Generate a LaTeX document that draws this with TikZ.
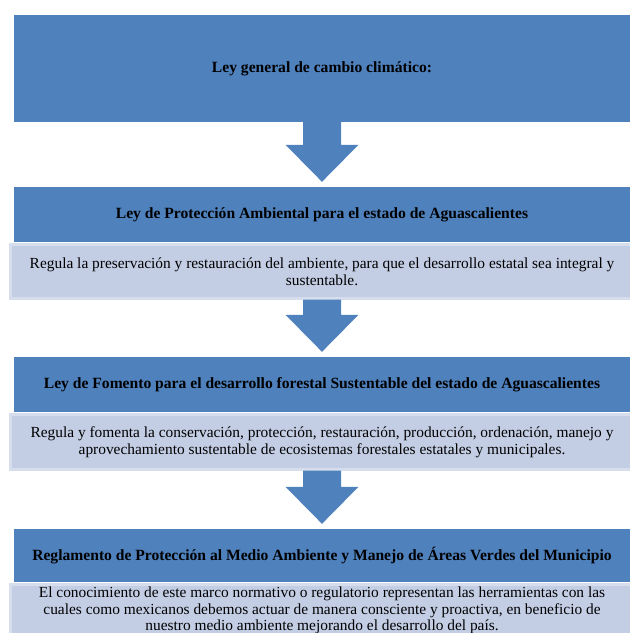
\documentclass[tikz,border=0pt]{standalone}
\usepackage{fontspec}
\setmainfont{Liberation Serif}
\usepackage{tikz}
\usetikzlibrary{calc, positioning}

\definecolor{headblue}{HTML}{4F81BD}
\definecolor{lightfill}{HTML}{C3CEE5}
\definecolor{lightedge}{HTML}{D6DDEC}

\hyphenpenalty=10000
\exhyphenpenalty=10000

\tikzset{
    header/.style={rectangle, fill=headblue, minimum width=616pt, inner sep=0pt,
        font=\fontsize{15.6}{16.7}\selectfont\bfseries, align=center},
    detail/.style={rectangle, fill=lightfill, draw=lightedge, line width=2.5pt,
        minimum width=623pt, inner sep=0pt, text width=598pt,
        font=\fontsize{15.4}{16.7}\selectfont, align=flush center},
    blockarrow/.style={fill=headblue}
}

\begin{document}
\begin{tikzpicture}[x=1pt, y=-1pt]

        \useasboundingbox (0,0) rectangle (630,633);
        \clip (0,0) rectangle (630,633);

        \node [header, minimum height=107pt] (h1) at (322,68.5) {Ley general de cambio climático:};

        \node [header, minimum height=55pt] (h2) at (322,214.5) {Ley de Protección Ambiental para el estado de Aguascalientes};
        \node [detail, minimum height=54pt, below=1pt of h2] (d2)
        {Regula la preservación y restauración del ambiente, para que el desarrollo estatal sea integral y sustentable.};

        \node [header, minimum height=55pt] (h3) at (322,384.5) {Ley de Fomento para el desarrollo forestal Sustentable del estado de Aguascalientes};
        \node [detail, minimum height=55pt, below=1pt of h3] (d3)
        {Regula y fomenta la conservación, protección, restauración, producción, ordenación, manejo y aprovechamiento sustentable de ecosistemas forestales estatales y municipales.};

        \node [header, minimum height=53pt] (h4) at (322,555.5) {Reglamento de Protección al Medio Ambiente y Manejo de Áreas Verdes del Municipio};
        \node [detail, minimum height=52pt, below=1pt of h4] (d4)
        {El conocimiento de este marco normativo o regulatorio representan las herramientas con las cuales como mexicanos debemos actuar de manera consciente y proactiva, en beneficio de nuestro medio ambiente mejorando el desarrollo del país.};

        \foreach \a/\b in {h1/h2, d2/h3, d3/h4}
        \fill [blockarrow] ($(\a.south)+(-19,0)$) -- ($(\b.north)+(-19,-42)$)
            -- ($(\b.north)+(-36.5,-42)$) -- ($(\b.north)+(0,-5)$)
            -- ($(\b.north)+(36.5,-42)$) -- ($(\b.north)+(19,-42)$)
            -- ($(\a.south)+(19,0)$) -- cycle;

\end{tikzpicture}
\end{document}
